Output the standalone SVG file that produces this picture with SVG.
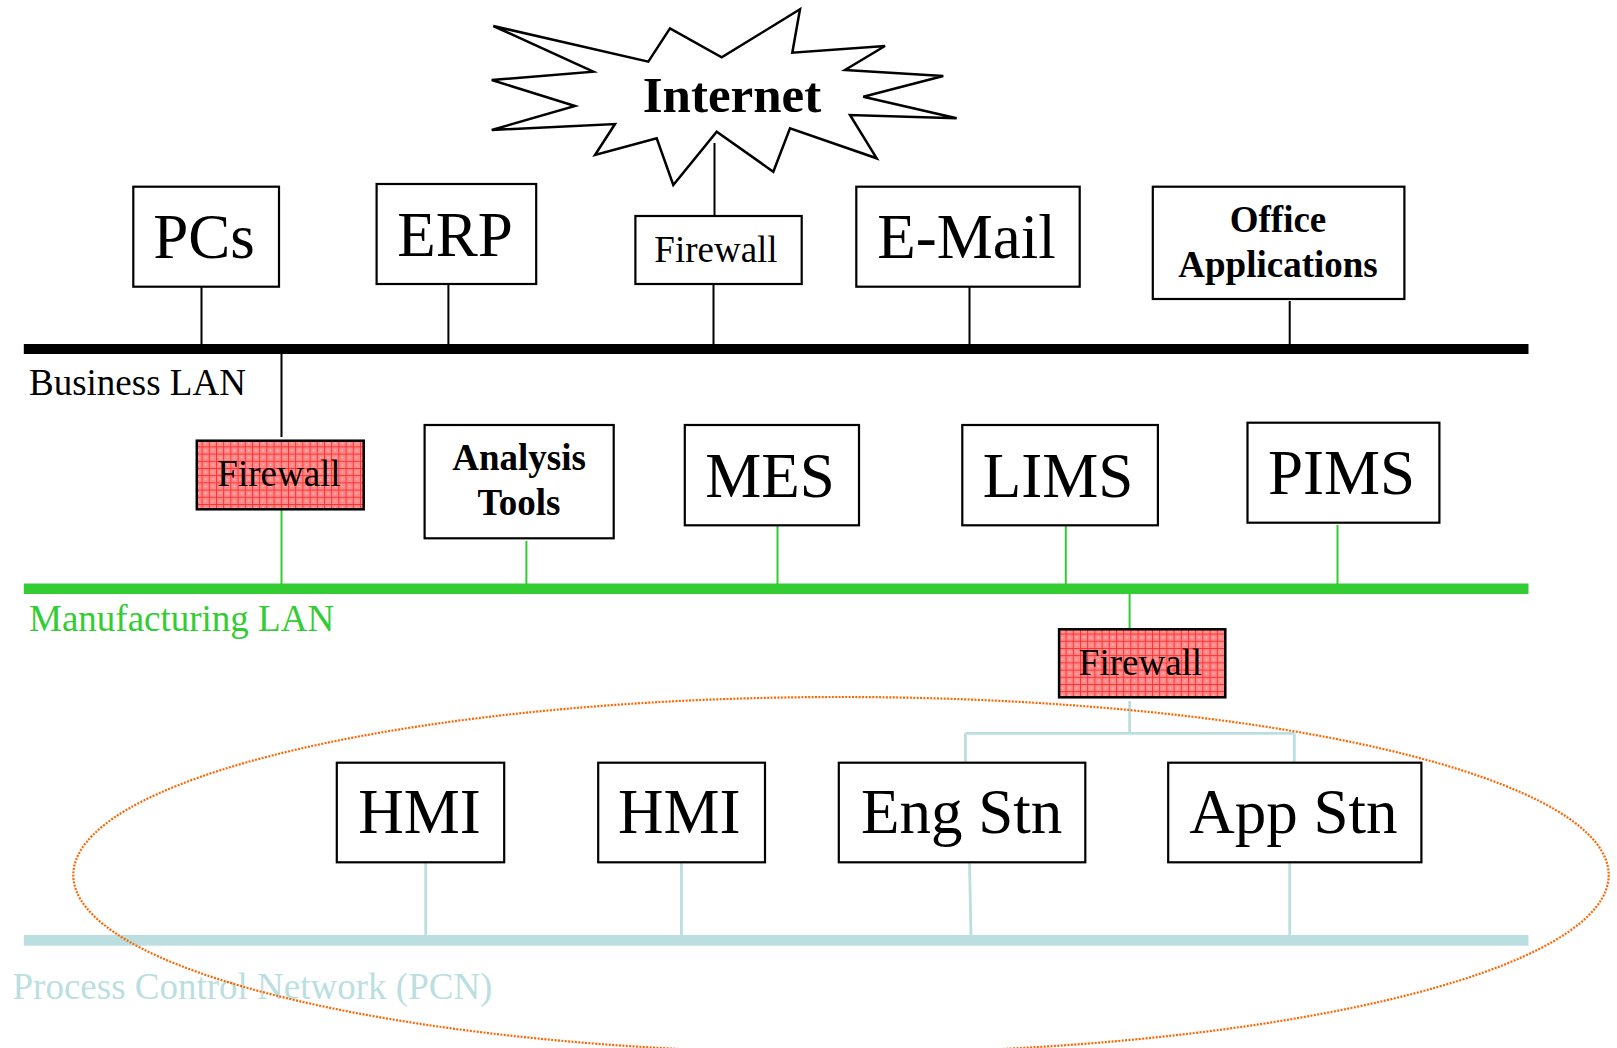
<svg xmlns="http://www.w3.org/2000/svg" width="1617" height="1048" viewBox="0 0 1617 1048">
<style>
.box{fill:#fff;stroke:#000;stroke-width:2.2}
.fw{fill:url(#grid);stroke:#000;stroke-width:2.5}
.t{font-family:"Liberation Serif","Times New Roman",serif;fill:#000;text-anchor:middle}
.big{font-size:63px}
.mid{font-size:37px}
.b{font-weight:bold}
.lbl{font-family:"Liberation Serif","Times New Roman",serif;font-size:37px}
.bk{stroke:#000;stroke-width:2;fill:none}
.gr{stroke:#33CC33;stroke-width:2;fill:none}
.bl{stroke:#BBDFE1;stroke-width:2.8;fill:none}
</style>
<defs>
<pattern id="grid" width="7.2" height="7.2" patternUnits="userSpaceOnUse">
<rect width="7.2" height="7.2" fill="#FF8A8A"/>
<path d="M0 0.5H7.2M0.5 0V7.2" stroke="#FF2A2A" stroke-width="0.9"/>
<circle cx="4" cy="4" r="0.6" fill="#fff" opacity="0.7"/>
</pattern>
</defs>

<g id="internet">
<polygon points="493.3,26 648.3,61.7 670,28.3 721.7,57.3 800,9.3 792.3,52.7 885,46 845,70 943.3,76 863.3,96.7 956.7,118.3 850,115 876.7,158.3 790,128.3 773.3,171.7 716.7,131.7 673.3,185 656.7,138.3 595,155 615,124 491.7,130 575,106 491.7,80 593.3,71.7" fill="#fff" stroke="#000" stroke-width="2.5" stroke-linejoin="miter"/>
<text class="t b" x="732" y="112" font-size="51">Internet</text>
</g>

<g id="connectors">
<rect x="23.8" y="344" width="1504.7" height="10" fill="#000"/>
<rect x="23.8" y="583.5" width="1504.7" height="10.5" fill="#33CC33"/>
<rect x="23.8" y="935" width="1504.7" height="10.7" fill="#BBDFE1"/>
<path class="bk" d="M714.5 143V216M201.5 287V344M448.4 284V344M713.5 284V344M969.5 287V344M1289.7 301V344M281.5 354V437"/>
<path class="gr" d="M281.5 509V584M526.4 541V584M777.5 525V584M1065.8 525V584M1337.5 525V584M1129.6 594V629"/>
<path class="bl" d="M1129.6 701V733.3M965.4 733.3H1294.3M965.4 733.3V762.7M1294.3 733.3V762.7M425.7 862V935M681.4 862V935M969.5 862L971 935M1289.7 862V935"/>
</g>

<g id="pcs"><rect class="box" x="133.3" y="186.7" width="145.7" height="100"/><text class="t big" x="204" y="258">PCs</text></g>
<g id="erp"><rect class="box" x="376.6" y="184" width="159.6" height="100"/><text class="t big" x="455" y="256">ERP</text></g>
<g id="firewall-internet"><rect class="box" x="635.4" y="216" width="166.3" height="68"/><text class="t mid" x="716" y="261.7">Firewall</text></g>
<g id="email"><rect class="box" x="856.3" y="186.7" width="223.4" height="100"/><text class="t big" x="966.5" y="258.3">E-Mail</text></g>
<g id="office"><rect class="box" x="1152.8" y="186.7" width="251.6" height="112.3"/><text class="t mid b" x="1278" y="232.3">Office</text><text class="t mid b" x="1278" y="277.3">Applications</text></g>

<text class="lbl" x="29" y="395" fill="#000">Business LAN</text>

<g id="firewall-business"><rect class="fw" x="196.8" y="440.7" width="166.9" height="68.6"/><text class="t mid" x="279" y="486">Firewall</text></g>
<g id="analysis"><rect class="box" x="424.6" y="425" width="189.1" height="113.3"/><text class="t mid b" x="519" y="470">Analysis</text><text class="t mid b" x="519" y="515">Tools</text></g>
<g id="mes"><rect class="box" x="684.8" y="425" width="174.2" height="100.3"/><text class="t big" x="770" y="496.7">MES</text></g>
<g id="lims"><rect class="box" x="962.3" y="425" width="195.6" height="100.3"/><text class="t big" x="1058" y="496.7">LIMS</text></g>
<g id="pims"><rect class="box" x="1247.5" y="422.7" width="191.9" height="100"/><text class="t big" x="1341.5" y="494">PIMS</text></g>

<text class="lbl" x="29" y="630.7" fill="#33CC33">Manufacturing LAN</text>

<g id="firewall-mfg"><rect class="fw" x="1059.1" y="629.3" width="166.2" height="68"/><text class="t mid" x="1140.5" y="675">Firewall</text></g>

<g id="hmi1"><rect class="box" x="336.8" y="762.7" width="167.4" height="99.6"/><text class="t big" x="419.5" y="833.3">HMI</text></g>
<g id="hmi2"><rect class="box" x="598.2" y="762.7" width="166.8" height="99.6"/><text class="t big" x="679.3" y="833.3">HMI</text></g>
<g id="engstn"><rect class="box" x="838.8" y="762.7" width="246.5" height="99.6"/><text class="t big" x="961.6" y="833.3">Eng Stn</text></g>
<g id="appstn"><rect class="box" x="1168.2" y="762.7" width="253.2" height="99.6"/><text class="t big" x="1293.3" y="833.3">App Stn</text></g>

<text class="lbl" x="12.5" y="999" fill="#BBDFE1">Process Control Network (PCN)</text>

<g id="pcn-zone"><ellipse cx="841" cy="875" rx="767.7" ry="178" fill="none" stroke="#FF6600" stroke-width="2.2" stroke-dasharray="2 1.4"/></g>
</svg>
